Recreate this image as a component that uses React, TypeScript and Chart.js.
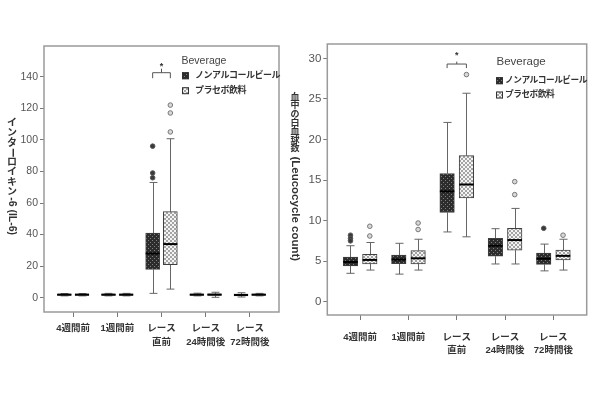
import React, { useEffect, useRef } from 'react';
import { Chart, registerables } from 'chart.js';
Chart.register(...registerables);

const FONT = '"Liberation Sans", "Noto Sans CJK JP", sans-serif';

// ---- data ----
const categories: (string | string[])[] = ['4週間前', '1週間前', ['レース', '直前'], ['レース', '24時間後'], ['レース', '72時間後']];
const groups = ['ノンアルコールビール', 'プラセボ飲料'];
const legendTitle = 'Beverage';

// IL-6 panel
const il6Title = 'インターロイキン-6 (IL-6)';
const il6Ticks = [0, 20, 40, 60, 80, 100, 120, 140];
const il6NonAlcLow = [1.2, 1.2, 2.8, 1.2, 0.5];
const il6NonAlcQ1 = [1.5, 1.5, 18, 1.5, 1.2];
const il6NonAlcMed = [2, 2, 28, 2, 1.8];
const il6NonAlcQ3 = [2.3, 2.3, 41, 2.4, 2.3];
const il6NonAlcHigh = [2.7, 2.8, 73, 2.9, 3.2];
const il6NonAlcOut = [[], [], [96, 79, 76], [], []];
const il6PlacLow = [1.2, 1.2, 5.5, 0.3, 1.2];
const il6PlacQ1 = [1.5, 1.5, 21, 1.5, 1.5];
const il6PlacMed = [2, 2, 34, 2, 2];
const il6PlacQ3 = [2.3, 2.3, 54.5, 2.5, 2.3];
const il6PlacHigh = [2.7, 2.8, 100.7, 3.5, 2.8];
const il6PlacOut = [[], [], [122, 117, 105], [], []];
const il6Sig = { cat: 2, line: 142.5, ends: 139, top: 145, star: 147.5 };

// WBC panel
const wbcTitle = '血中の白血球数 (Leucocycle count)';
const wbcTicks = [0, 5, 10, 15, 20, 25, 30];
const wbcNonAlcLow = [3.5, 3.4, 8.6, 4.65, 3.8];
const wbcNonAlcQ1 = [4.4, 4.7, 11.0, 5.6, 4.6];
const wbcNonAlcMed = [4.9, 5.2, 13.6, 6.9, 5.3];
const wbcNonAlcQ3 = [5.5, 5.75, 15.8, 7.8, 6.0];
const wbcNonAlcHigh = [6.9, 7.2, 22.1, 9.0, 7.1];
const wbcNonAlcOut = [[8.2, 7.8, 7.5], [], [], [], [9.05]];
const wbcPlacLow = [3.9, 3.9, 8.0, 4.65, 3.9];
const wbcPlacQ1 = [4.65, 4.65, 12.8, 6.35, 5.15];
const wbcPlacMed = [5.15, 5.35, 14.45, 7.6, 5.65];
const wbcPlacQ3 = [5.85, 6.3, 18.0, 9.05, 6.35];
const wbcPlacHigh = [7.3, 7.7, 25.7, 11.5, 7.7];
const wbcPlacOut = [[9.3, 8.1], [9.7, 8.9], [28.0], [14.8, 13.2], [8.2]];
const wbcSig = { cat: 2, line: 29.3, ends: 28.8, top: 29.6, star: 30.6 };

interface Series { low: number[]; q1: number[]; med: number[]; q3: number[]; high: number[]; out: number[][] }
interface Panel {
  title: string; ticks: number[]; series: Series[]; sig: typeof il6Sig;
  yMin: number; yMax: number; xMin: number; xMax: number;
  width: number; areaLeft: number; areaRight: number; areaTop: number; areaBottom: number;
  tickFont: number; xLabelPad: number; xLineHeight: number; barW: number;
  titleX: number; titleTop: number; titleCjk: number; titleCjkStep: number; titleLatin: number;
  legendTitleX: number; legendX: number; legendTextX: number; legendY: number; legendItems: number[]; legendFont: number;
}

const OFFSETS = [-0.2, 0.2];

function makePattern(dark: boolean): CanvasPattern {
  const c = document.createElement('canvas');
  c.width = 4; c.height = 4;
  const g = c.getContext('2d')!;
  if (dark) {
    g.fillStyle = '#2c2c2c'; g.fillRect(0, 0, 4, 4);
    g.fillStyle = '#808080'; g.fillRect(0, 0, 1, 1); g.fillRect(2, 2, 1, 1);
  } else {
    g.fillStyle = '#a4a4a4'; g.fillRect(0, 0, 4, 4);
    g.fillStyle = '#f4f4f4'; g.fillRect(0, 0, 2, 2); g.fillRect(2, 2, 2, 2);
  }
  return g.createPattern(c, 'repeat')!;
}

function drawVertical(ctx: CanvasRenderingContext2D, text: string, cx: number, top: number, cjk: number, step: number, latin: number) {
  ctx.save();
  ctx.fillStyle = '#333';
  const upright = (ch: string) => /[\u3040-\u30ff\u4e00-\u9fff]/.test(ch) && ch !== 'ー';
  let y = top;
  let i = 0;
  while (i < text.length) {
    const ch = text[i];
    if (upright(ch)) {
      ctx.font = `bold ${cjk}px ${FONT}`;
      ctx.textAlign = 'center'; ctx.textBaseline = 'middle';
      ctx.fillText(ch, cx, y + step / 2);
      y += step;
      i++;
    } else {
      let run = '';
      while (i < text.length && !upright(text[i])) { run += text[i]; i++; }
      ctx.font = run === 'ー' ? `bold ${cjk}px ${FONT}` : `bold ${latin}px ${FONT}`;
      const w = run === 'ー' ? step : ctx.measureText(run).width;
      ctx.save();
      ctx.translate(cx, y);
      ctx.rotate(Math.PI / 2);
      ctx.textAlign = 'left'; ctx.textBaseline = 'middle';
      if (run === 'ー') { ctx.textAlign = 'center'; ctx.fillText(run, step / 2, 0); }
      else ctx.fillText(run, 0, 0);
      ctx.restore();
      y += w;
    }
  }
  ctx.restore();
}

function makeChart(canvas: HTMLCanvasElement, p: Panel): Chart {
  const patterns = [makePattern(true), makePattern(false)];
  const datasets: any[] = [];
  p.series.forEach((s, si) => {
    datasets.push({
      type: 'bar',
      label: groups[si],
      data: categories.map((_, i) => ({ x: i + OFFSETS[si], y: [s.q1[i], s.q3[i]] })),
      backgroundColor: patterns[si],
      borderColor: '#404040',
      borderWidth: 1,
      borderSkipped: false,
      barThickness: p.barW,
      grouped: false,
      order: 2,
    });
  });
  p.series.forEach((s, si) => {
    const pts: { x: number; y: number }[] = [];
    s.out.forEach((arr, i) => arr.forEach((v) => pts.push({ x: i + OFFSETS[si], y: v })));
    datasets.push({
      type: 'scatter',
      label: groups[si] + ' outlier',
      data: pts,
      pointRadius: 2.3,
      pointBackgroundColor: si === 0 ? '#3a3a3a' : '#d8d8d8',
      pointBorderColor: si === 0 ? '#555' : '#777',
      pointBorderWidth: 1,
      showLine: false,
      order: 1,
    });
  });

  const boxPlugin = {
    id: 'boxparts',
    beforeDatasetsDraw(chart: any) {
      const ctx = chart.ctx; const xs = chart.scales.x; const ys = chart.scales.y;
      ctx.save();
      ctx.strokeStyle = '#666'; ctx.lineWidth = 1;
      p.series.forEach((s, si) => {
        categories.forEach((_, i) => {
          const x = Math.round(xs.getPixelForValue(i + OFFSETS[si])) + 0.5;
          const cap = p.barW * 0.28;
          const yl = ys.getPixelForValue(s.low[i]); const y1 = ys.getPixelForValue(s.q1[i]);
          const y3 = ys.getPixelForValue(s.q3[i]); const yh = ys.getPixelForValue(s.high[i]);
          ctx.beginPath();
          ctx.moveTo(x, yl); ctx.lineTo(x, y1);
          ctx.moveTo(x, y3); ctx.lineTo(x, yh);
          ctx.moveTo(x - cap, yl); ctx.lineTo(x + cap, yl);
          ctx.moveTo(x - cap, yh); ctx.lineTo(x + cap, yh);
          ctx.stroke();
        });
      });
      ctx.restore();
    },
    afterDatasetsDraw(chart: any) {
      const ctx = chart.ctx; const xs = chart.scales.x; const ys = chart.scales.y;
      ctx.save();
      ctx.strokeStyle = '#000'; ctx.lineWidth = 2;
      p.series.forEach((s, si) => {
        categories.forEach((_, i) => {
          const x = xs.getPixelForValue(i + OFFSETS[si]);
          const y = ys.getPixelForValue(s.med[i]);
          ctx.beginPath(); ctx.moveTo(x - p.barW / 2, y); ctx.lineTo(x + p.barW / 2, y); ctx.stroke();
        });
      });
      // significance bracket
      const sg = p.sig;
      const xa = xs.getPixelForValue(sg.cat + OFFSETS[0]);
      const xb = xs.getPixelForValue(sg.cat + OFFSETS[1]);
      const xm = xs.getPixelForValue(sg.cat);
      const yl = ys.getPixelForValue(sg.line); const ye = ys.getPixelForValue(sg.ends); const yt = ys.getPixelForValue(sg.top);
      ctx.strokeStyle = '#555'; ctx.lineWidth = 1;
      ctx.beginPath();
      ctx.moveTo(xa, ye); ctx.lineTo(xa, yl); ctx.lineTo(xb, yl); ctx.lineTo(xb, ye);
      ctx.moveTo(xm, yl); ctx.lineTo(xm, yt);
      ctx.stroke();
      ctx.fillStyle = '#333'; ctx.font = `bold 9px ${FONT}`; ctx.textAlign = 'center'; ctx.textBaseline = 'middle';
      ctx.fillText('*', xm, ys.getPixelForValue(sg.star) + 2);
      ctx.restore();
    },
    afterDraw(chart: any) {
      const ctx = chart.ctx; const a = chart.chartArea;
      ctx.save();
      ctx.strokeStyle = '#9a9a9a'; ctx.lineWidth = 1.5;
      ctx.strokeRect(a.left, a.top, a.right - a.left, a.bottom - a.top);
      // y title
      drawVertical(ctx, p.title, p.titleX, p.titleTop, p.titleCjk, p.titleCjkStep, p.titleLatin);
      // legend
      ctx.fillStyle = '#444'; ctx.font = `${p.tickFont}px ${FONT}`; ctx.textAlign = 'left'; ctx.textBaseline = 'middle';
      ctx.fillText(legendTitle, p.legendTitleX, p.legendY);
      groups.forEach((g, gi) => {
        const y = p.legendItems[gi];
        ctx.fillStyle = patterns[gi];
        ctx.fillRect(p.legendX, y - 3.5, 7, 7);
        ctx.strokeStyle = '#333'; ctx.lineWidth = 1;
        ctx.strokeRect(p.legendX + 0.5, y - 3, 6, 6);
        ctx.fillStyle = '#333';
        ctx.font = `bold ${p.legendFont}px ${FONT}`;
        (ctx as any).letterSpacing = '-0.5px';
        ctx.fillText(g, p.legendTextX, y);
        (ctx as any).letterSpacing = '0px';
      });
      ctx.restore();
    },
  };

  return new Chart(canvas, {
    type: 'bar',
    data: { datasets },
    options: {
      responsive: false,
      animation: false,
      events: [],
      layout: {
        autoPadding: false,
        padding: { left: 0, top: p.areaTop, right: p.width - p.areaRight, bottom: 400 - p.areaBottom - 60 },
      },
      plugins: { legend: { display: false }, tooltip: { enabled: false } },
      scales: {
        x: {
          type: 'linear',
          offset: false,
          min: p.xMin, max: p.xMax,
          afterFit: (sc: any) => { sc.height = 60; },
          afterBuildTicks: (sc: any) => { sc.ticks = categories.map((_, i) => ({ value: i })); },
          grid: { offset: false, drawOnChartArea: false, drawTicks: true, tickLength: 5, color: '#777' },
          border: { display: false },
          ticks: {
            autoSkip: false, maxRotation: 0, minRotation: 0,
            padding: p.xLabelPad,
            color: '#333',
            font: { family: FONT, size: 9.5, weight: 'bold', lineHeight: p.xLineHeight },
            callback: (v: any) => categories[Math.round(Number(v))] as any,
          },
        },
        y: {
          type: 'linear',
          min: p.yMin, max: p.yMax,
          afterFit: (sc: any) => { sc.width = p.areaLeft; },
          afterBuildTicks: (sc: any) => { sc.ticks = p.ticks.map((v) => ({ value: v })); },
          grid: { drawOnChartArea: false, drawTicks: true, tickLength: 4, color: '#777' },
          border: { display: false },
          ticks: { padding: 2, color: '#555', font: { family: FONT, size: p.tickFont } },
        },
      },
    } as any,
    plugins: [boxPlugin],
  });
}

const leftPanel: Panel = {
  title: il6Title, ticks: il6Ticks, sig: il6Sig,
  series: [
    { low: il6NonAlcLow, q1: il6NonAlcQ1, med: il6NonAlcMed, q3: il6NonAlcQ3, high: il6NonAlcHigh, out: il6NonAlcOut },
    { low: il6PlacLow, q1: il6PlacQ1, med: il6PlacMed, q3: il6PlacQ3, high: il6PlacHigh, out: il6PlacOut },
  ],
  yMin: -9, yMax: 159.4, xMin: -0.66, xMax: 4.66,
  width: 285, areaLeft: 44, areaRight: 279, areaTop: 46, areaBottom: 312,
  tickFont: 10.5, xLabelPad: 4, xLineHeight: 1.5, barW: 14,
  titleX: 12, titleTop: 118, titleCjk: 10, titleCjkStep: 9.9, titleLatin: 10.5,
  legendTitleX: 181.5, legendX: 182, legendTextX: 195, legendY: 61.5, legendItems: [75.7, 90.7], legendFont: 9,
};

const rightPanel: Panel = {
  title: wbcTitle, ticks: wbcTicks, sig: wbcSig,
  series: [
    { low: wbcNonAlcLow, q1: wbcNonAlcQ1, med: wbcNonAlcMed, q3: wbcNonAlcQ3, high: wbcNonAlcHigh, out: wbcNonAlcOut },
    { low: wbcPlacLow, q1: wbcPlacQ1, med: wbcPlacMed, q3: wbcPlacQ3, high: wbcPlacHigh, out: wbcPlacOut },
  ],
  yMin: -1.64, yMax: 31.77, xMin: -0.68, xMax: 4.69,
  width: 315, areaLeft: 42.3, areaRight: 301.7, areaTop: 44, areaBottom: 315,
  tickFont: 11.5, xLabelPad: 11, xLineHeight: 1.35, barW: 14.5,
  titleX: 10, titleTop: 93, titleCjk: 9, titleCjkStep: 8.6, titleLatin: 11.5,
  legendTitleX: 211.5, legendX: 211, legendTextX: 220, legendY: 61.5, legendItems: [80.7, 95], legendFont: 8.7,
};

export default function App() {
  const leftRef = useRef<HTMLCanvasElement>(null);
  const rightRef = useRef<HTMLCanvasElement>(null);
  useEffect(() => {
    const c1 = makeChart(leftRef.current!, leftPanel);
    const c2 = makeChart(rightRef.current!, rightPanel);
    return () => { c1.destroy(); c2.destroy(); };
  }, []);
  return (
    <div style={{ position: 'absolute', left: 0, top: 0, width: 600, height: 400, background: '#fff' }}>
      <canvas ref={leftRef} width={285} height={400} style={{ position: 'absolute', left: 0, top: 0, width: 285, height: 400 }} />
      <canvas ref={rightRef} width={315} height={400} style={{ position: 'absolute', left: 285, top: 0, width: 315, height: 400 }} />
    </div>
  );
}
